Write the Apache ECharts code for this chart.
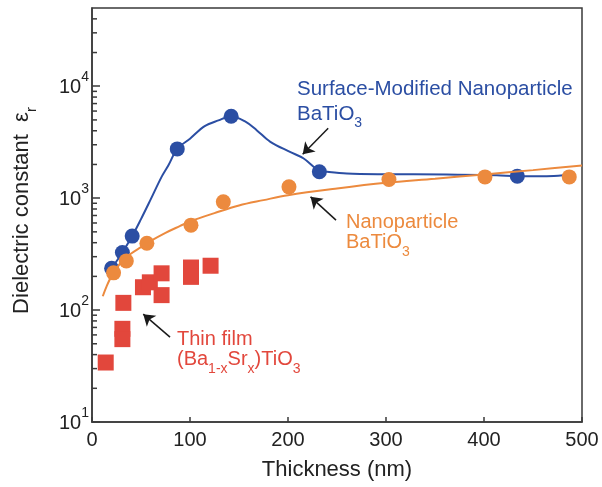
<!DOCTYPE html>
<html><head><meta charset="utf-8">
<script src="https://cdn.jsdelivr.net/npm/echarts@6/dist/echarts.min.js"></script>
<style>html,body{margin:0;padding:0;background:#fff}#c{width:602px;height:487px}</style>
</head><body><div id="c"></div>
<script>
// ---- data ----
const xTicks = [0, 100, 200, 300, 400, 500];
const yTickValues = [10, 100, 1000, 10000];
const surfaceX = [20, 31, 41, 87, 142, 232, 434];
const surfaceY = [236, 327, 458, 2755, 5400, 1720, 1572];
const surfaceCurveX = [20, 31, 41, 50, 60, 71, 78, 87, 100, 115, 129, 142, 157, 168, 182, 202, 216, 232, 240, 260, 294, 362, 413, 434, 464, 481];
const surfaceCurveY = [236, 327, 458, 650, 980, 1550, 1970, 2755, 3400, 4400, 4950, 5400, 4800, 4050, 3185, 2590, 2260, 1760, 1718, 1660, 1637, 1630, 1600, 1572, 1570, 1600];
const nanoX = [22, 35, 56, 101, 134, 201, 303, 401, 487];
const nanoY = [215, 275, 396, 574, 927, 1262, 1469, 1549, 1549];
const nanoCurveX = [11, 15, 20, 30, 40, 50, 60, 75, 90, 100, 125, 150, 175, 200, 250, 300, 350, 400, 450, 500];
const nanoCurveY = [133, 164, 201, 269, 320, 365, 415, 490, 565, 620, 735, 860, 960, 1064, 1220, 1370, 1490, 1630, 1780, 1960];
const filmX = [14, 32, 31, 31, 52, 59, 71, 71, 101, 101, 121];
const filmY = [34, 116, 68, 55, 160, 177, 213, 136, 240, 198, 249];
const minorTickValues = [20,30,40,50,60,70,80,90,200,300,400,500,600,700,800,900,2000,3000,4000,5000,6000,7000,8000,9000,20000,30000,40000];
const arrows = [
  [[241, 4217], [215, 2472]],
  [[249, 637], [223, 1027]],
  [[79.6, 57.4], [52.3, 92]]
];

const FONT = "'Liberation Sans', Arial, Helvetica, sans-serif";
const BLUE = '#2b4ea3', ORANGE = '#ec8a3e', RED = '#e2473c', AXIS = '#3a3a3a';
const zip = (a, b) => a.map((v, i) => [v, b[i]]);

const chart = echarts.init(document.getElementById('c'), null, {renderer: 'canvas'});
chart.setOption({
  animation: false,
  backgroundColor: '#fff',
  grid: {left: 92, right: 20, top: 8, bottom: 65, show: true, borderColor: AXIS, borderWidth: 1.5, containLabel: false, outerBoundsMode: 'none'},
  xAxis: {
    type: 'value', min: 0, max: 500, interval: 100,
    name: 'Thickness (nm)', nameLocation: 'middle', nameGap: 36, nameMoveOverlap: false,
    nameTextStyle: {fontFamily: FONT, fontSize: 22, color: '#222', lineHeight: 24},
    axisLine: {lineStyle: {color: AXIS, width: 1.5}},
    axisTick: {inside: true, length: 5, lineStyle: {color: AXIS, width: 1.5}},
    axisLabel: {fontFamily: FONT, fontSize: 20, color: '#222', margin: 8, lineHeight: 20,
      formatter: v => xTicks.includes(v) ? String(v) : ''},
    splitLine: {show: false}
  },
  yAxis: {
    type: 'log', logBase: 10, min: 10, max: 50000,
    name: '{n|Dielectric constant  ε}{s|r}', nameLocation: 'middle', nameGap: 55, nameMoveOverlap: false,
    nameTextStyle: {fontFamily: FONT, color: '#222', padding: [0, 0, 0, 9], rich: {
      n: {fontFamily: FONT, fontSize: 22, lineHeight: 26, verticalAlign: 'top', color: '#222'},
      s: {fontFamily: FONT, fontSize: 15, lineHeight: 15, padding: [13, 0, 0, 0], verticalAlign: 'top', color: '#222'}
    }},
    axisLine: {lineStyle: {color: AXIS, width: 1.5}},
    axisTick: {inside: true, length: 8, lineStyle: {color: AXIS, width: 1.5}},
    axisLabel: {margin: 3, showMaxLabel: false,
      formatter: v => {
        const e = Math.round(Math.log10(v));
        if (!yTickValues.some(t => Math.abs(t - v) < 1e-6 * t)) return '';
        return '{b|10}{p|' + e + '}';
      },
      rich: {
        b: {fontFamily: FONT, fontSize: 20, lineHeight: 22, verticalAlign: 'bottom', color: '#222'},
        p: {fontFamily: FONT, fontSize: 14, lineHeight: 14, padding: [0, 0, 13, 0], verticalAlign: 'bottom', color: '#222'}
      }
    },
    splitLine: {show: false}
  },
  series: [
    {type: 'custom', silent: true, z: 5,
      data: minorTickValues.map(v => [0, v]),
      encode: {x: 0, y: 1},
      renderItem: (params, api) => {
        const p = api.coord([0, api.value(1)]);
        return {type: 'line', shape: {x1: p[0], y1: p[1], x2: p[0] + 5, y2: p[1]}, style: {stroke: AXIS, lineWidth: 1.5}};
      }
    },
    {type: 'line', data: zip(surfaceCurveX, surfaceCurveY), smooth: 0.35, showSymbol: false, silent: true,
      lineStyle: {color: BLUE, width: 2}, z: 2},
    {type: 'scatter', data: zip(surfaceX, surfaceY), symbol: 'circle', symbolSize: 15, silent: true,
      itemStyle: {color: BLUE, opacity: 1}, z: 3},
    {type: 'line', data: zip(nanoCurveX, nanoCurveY), smooth: 0.35, showSymbol: false, silent: true,
      lineStyle: {color: ORANGE, width: 2}, z: 4},
    {type: 'scatter', data: zip(nanoX, nanoY), symbol: 'circle', symbolSize: 15, silent: true,
      itemStyle: {color: ORANGE, opacity: 1}, z: 5},
    {type: 'scatter', data: zip(filmX, filmY), symbol: 'rect', symbolSize: 16, silent: true,
      itemStyle: {color: RED, opacity: 1}, z: 6,
      markLine: {silent: true, symbol: ['none', 'arrow'], symbolSize: 11, label: {show: false},
        lineStyle: {color: '#1a1a1a', width: 1.5, type: 'solid'},
        emphasis: {disabled: true},
        data: arrows.map(a => [{coord: a[0]}, {coord: a[1]}])}
    }
  ],
  graphic: [
    {type: 'text', x: 297, y: 89, silent: true, style: {text: 'Surface-Modified Nanoparticle', fill: BLUE, font: '20.5px ' + FONT, verticalAlign: 'middle'}},
    {type: 'text', x: 297, y: 103.5, silent: true, style: {text: 'BaTiO{s|3}', fill: BLUE, font: '20.5px ' + FONT, verticalAlign: 'top',
      rich: {s: {fontSize: 14, lineHeight: 14, padding: [13, 0, 0, 0], verticalAlign: 'top', fill: BLUE, fontFamily: FONT}}}},
    {type: 'text', x: 346, y: 222, silent: true, style: {text: 'Nanoparticle', fill: ORANGE, font: '20px ' + FONT, verticalAlign: 'middle'}},
    {type: 'text', x: 346, y: 232.5, silent: true, style: {text: 'BaTiO{s|3}', fill: ORANGE, font: '20px ' + FONT, verticalAlign: 'top',
      rich: {s: {fontSize: 14, lineHeight: 14, padding: [13, 0, 0, 0], verticalAlign: 'top', fill: ORANGE, fontFamily: FONT}}}},
    {type: 'text', x: 177, y: 339, silent: true, style: {text: 'Thin film', fill: RED, font: '20px ' + FONT, verticalAlign: 'middle'}},
    {type: 'text', x: 177, y: 349, silent: true, style: {text: '(Ba{s|1-x}Sr{s|x})TiO{s|3}', fill: RED, font: '20px ' + FONT, verticalAlign: 'top',
      rich: {s: {fontSize: 14, lineHeight: 14, padding: [13, 0, 0, 0], verticalAlign: 'top', fill: RED, fontFamily: FONT}}}}
  ]
});
</script></body></html>
